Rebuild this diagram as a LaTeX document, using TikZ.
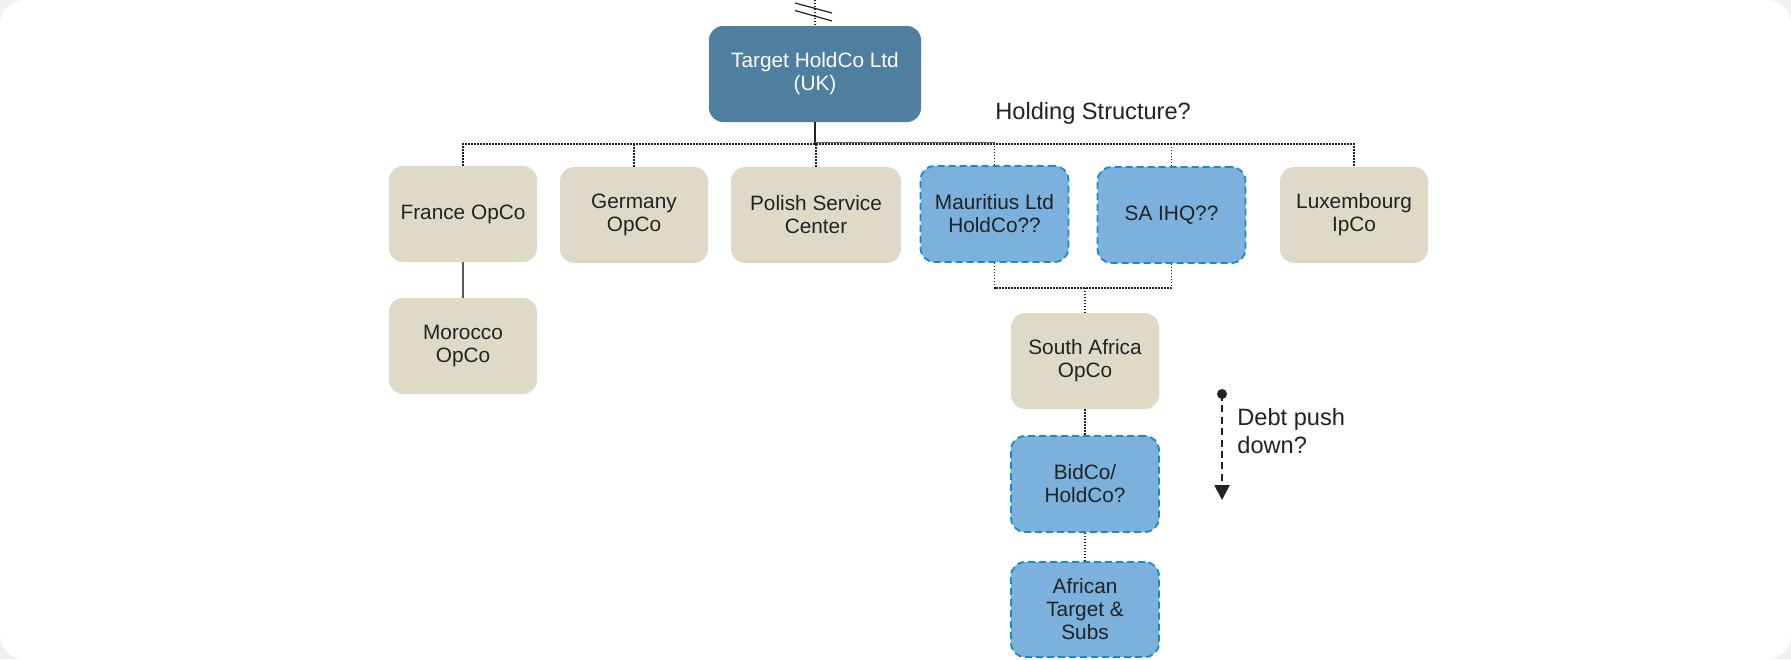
\documentclass[tikz,border=0pt]{standalone}
\usepackage{fontspec}
\setmainfont{Liberation Sans}
\usetikzlibrary{arrows.meta}
\definecolor{steel}{RGB}{79,127,158}
\definecolor{tan}{RGB}{223,218,200}
\definecolor{skyfill}{RGB}{123,177,220}
\definecolor{skyedge}{RGB}{23,140,200}
\definecolor{ink}{RGB}{34,34,34}
\definecolor{outer}{RGB}{240,240,240}
\begin{document}
\begin{tikzpicture}[x=0.5pt,y=-0.5pt,
  box/.style={rounded corners=7pt, minimum height=48pt, minimum width=74pt,
    align=center, inner sep=2pt, text=ink, font=\fontsize{10.4}{11.5}\selectfont},
  opbox/.style={box, fill=tan},
  newbox/.style={box, fill=skyfill, draw=skyedge, line width=0.9pt,
    dash pattern=on 3.5pt off 2pt},
  topbox/.style={box, fill=steel, text=white, minimum width=106pt},
  dotline/.style={draw=ink, line width=0.65pt, dash pattern=on 0.65pt off 0.85pt},
  solidline/.style={draw=ink, line width=0.9pt},
  label/.style={text=ink, inner sep=0pt, align=left, font=\fontsize{11.8}{14}\selectfont}
]
% page background
\useasboundingbox (0,0) rectangle (1791,659);
\fill[outer] (0,0) rectangle (1791,659);
\fill[white, rounded corners=12pt] (0,0) rectangle (1791,659);

% parent company
\node[topbox] (target) at (815,74) {Target HoldCo Ltd\\(UK)};

% first tier
\node[opbox] (france) at (463,214) {France OpCo};
\node[opbox] (germany) at (634,215) {Germany\\OpCo};
\node[opbox, minimum width=85pt] (polish) at (816,215) {Polish Service\\Center};
\node[newbox] (mauritius) at (994.5,214) {Mauritius Ltd\\HoldCo??};
\node[newbox] (saihq) at (1171.5,215) {SA IHQ??};
\node[opbox] (lux) at (1354,215) {Luxembourg\\IpCo};

% lower tiers
\node[opbox] (morocco) at (463,346) {Morocco\\OpCo};
\node[opbox] (saopco) at (1085,361) {South Africa\\OpCo};
\node[newbox] (bidco) at (1085,484) {BidCo/\\HoldCo?};
\node[newbox, minimum height=47.5pt] (african) at (1085,609.5) {African\\Target \&\\Subs};

% upstream ownership, broken
\coordinate (upstream) at (815,0);
\draw[dotline] (upstream) -- (target.north);
\draw[ink, line width=0.6pt] (795,3) -- (832,13);
\draw[ink, line width=0.6pt] (795,10.5) -- (832,21);

% holding bus
\coordinate (bus) at (815,144);
\draw[solidline] (target.south) -- (target.south |- bus);
\draw[dotline] (france.north) -- (france.north |- bus) -- (lux.north |- bus) -- (lux.north);
\draw[draw=ink!70, line width=0.4pt] (target.south |- bus) ++(0,-1.5) -- ([yshift=0.75pt]mauritius.north |- bus);
\draw[dotline] (germany.north) -- (germany.north |- bus);
\draw[dotline] (polish.north) -- (polish.north |- bus);
\draw[dotline] (mauritius.north) -- (mauritius.north |- bus);
\draw[dotline] (saihq.north) -- (saihq.north |- bus);

\node[label, anchor=base west] (holding) at (995,119) {Holding Structure?};

% France subsidiary
\draw[draw=ink!75, line width=0.6pt] (france.south) -- (morocco.north);

% South African chain
\coordinate (join) at (1085,288);
\draw[dotline] (mauritius.south) -- (mauritius.south |- join) -- (saihq.south |- join) -- (saihq.south);
\draw[dotline] (join) -- (saopco.north);
\draw[dotline] (saopco.south) -- (bidco.north);
\draw[dotline] (bidco.south) -- (african.north);

% debt push down
\coordinate (dstart) at (1222,394);
\coordinate (dend) at (1222,500);
\fill[ink] (dstart) circle (2.5pt);
\draw[ink, line width=1.3pt, dash pattern=on 3.5pt off 2.2pt,
  -{Triangle[width=7.5pt,length=7.5pt]}] (dstart) -- (dend);
\node[label, anchor=base west] (debt) at (1237,453) {Debt push\\down?};
\end{tikzpicture}
\end{document}
